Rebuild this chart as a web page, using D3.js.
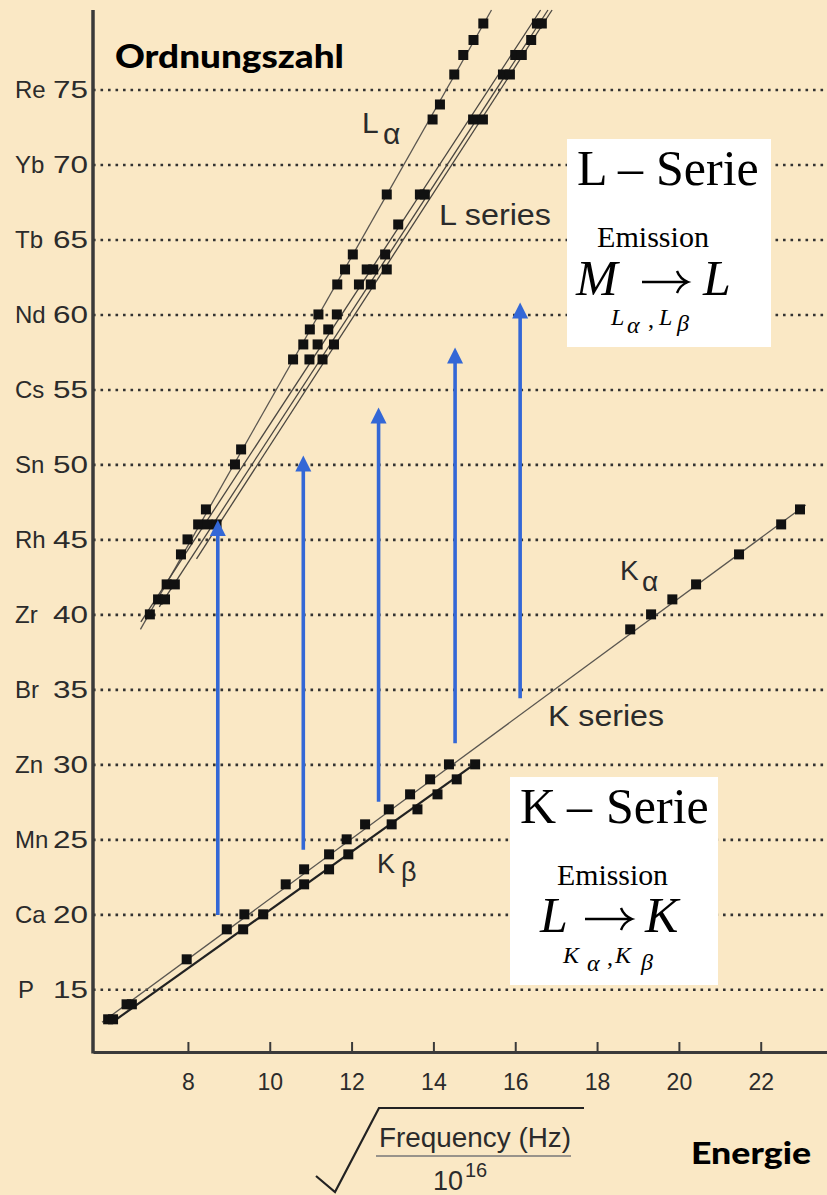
<!DOCTYPE html>
<html>
<head>
<meta charset="utf-8">
<script src="https://cdn.jsdelivr.net/npm/d3@7"></script>
<style>
  html, body { margin: 0; padding: 0; background: #fae8c5; }
  svg { display: block; }
</style>
</head>
<body>
<svg id="chart" width="827" height="1195"></svg>
<script>
// Moseley plot: atomic number Z against sqrt(frequency / 1e16)
// Each point is [sqrt(f/1e16), Z]

const zTicks = [15, 20, 25, 30, 35, 40, 45, 50, 55, 60, 65, 70, 75];
const zSymbols = ["P", "Ca", "Mn", "Zn", "Br", "Zr", "Rh", "Sn", "Cs", "Nd", "Tb", "Yb", "Re"];
const freqTicks = [8, 10, 12, 14, 16, 18, 20, 22];

const kAlphaPoints = [
  [6.05, 13], [6.50, 14], [7.97, 17], [8.95, 19], [9.38, 20], [10.39, 22],
  [10.84, 23], [11.45, 24], [11.88, 25], [12.33, 26], [12.91, 27], [13.43, 28],
  [13.92, 29], [14.38, 30], [18.81, 39], [19.32, 40], [19.84, 41], [20.42, 42],
  [21.47, 44], [22.50, 46], [22.96, 47]
];
const kBetaPoints = [
  [6.17, 13], [6.63, 14], [9.35, 19], [9.84, 20], [10.84, 22], [11.45, 23],
  [11.92, 24], [12.98, 26], [13.61, 27], [14.10, 28], [14.57, 29], [15.02, 30]
];
const lAlphaPoints = [
  [7.07, 40], [7.27, 41], [7.48, 42], [7.83, 44], [7.99, 45], [8.25, 46],
  [8.44, 47], [9.15, 50], [9.30, 51], [10.57, 57], [10.82, 58], [10.98, 59],
  [11.19, 60], [11.65, 62], [11.84, 63], [12.03, 64], [12.86, 68], [13.98, 73],
  [14.16, 74], [14.51, 76], [14.73, 77.3], [14.98, 78.3], [15.22, 79.4]
];
const lSeriesPoints = [
  [7.44, 41], [7.68, 42], [8.48, 46], [8.70, 46], [10.97, 57], [11.29, 57],
  [11.17, 58], [11.57, 58], [11.43, 59], [11.64, 60], [12.18, 62], [12.47, 62],
  [12.37, 63], [12.53, 63], [12.86, 63], [12.82, 64], [13.14, 66], [13.67, 68],
  [13.79, 68], [14.97, 73], [15.21, 73], [15.70, 76], [15.87, 76], [16.00, 77.3],
  [16.16, 77.3], [16.39, 78.3], [16.53, 79.4], [16.65, 79.4]
];

// straight-line fits, given by their two end points
const kAlphaFit = [[5.90, 12.8], [23.10, 47.3]];
const kBetaFit = [[6.15, 12.8], [15.10, 30.2]];
const lAlphaFit = [[6.84, 39.0], [15.42, 80.3]];
const lSeriesFits = [
  [[6.85, 39.5], [16.62, 80.3]],
  [[7.30, 40.5], [16.80, 80.3]],
  [[8.21, 43.7], [16.90, 80.3]]
];

// transition arrows (K level up to L level)
const arrowFreq = [8.73, 10.82, 12.66, 14.53, 16.12];
const arrowFromZ = [19.95, 24.3, 27.5, 31.4, 34.4];
const arrowToZ = [46.3, 50.6, 53.8, 57.8, 60.8];

const W = 827, H = 1195;
const svg = d3.select("#chart");

svg.append("rect").attr("width", W).attr("height", H).attr("fill", "#fae8c5");

const x = d3.scaleLinear().domain([5.68, 23.62]).range([93, 827]);
const y = d3.scaleLinear().domain([10.82, 80.3]).range([1052, 10]);

const ink = "#2b2b2b";
const sans = "'Liberation Sans', Arial, sans-serif";
const serif = "'Liberation Serif', 'Times New Roman', serif";

// dotted guide lines at the labelled elements
const grid = svg.append("g")
  .attr("transform", `translate(93,0)`)
  .call(d3.axisLeft(y).tickValues(zTicks).tickSize(-(W - 93)).tickFormat(""));
grid.select(".domain").remove();
grid.selectAll(".tick line")
  .attr("stroke", "#333")
  .attr("stroke-width", 2.6)
  .attr("stroke-dasharray", "2.6,4.9");

// element / Z labels on the left
const yl = svg.append("g");
zTicks.forEach((z, i) => {
  yl.append("text")
    .attr("x", zSymbols[i] === "P" ? 18 : 15).attr("y", y(z) + 8.5)
    .attr("font-family", sans).attr("font-size", 24)
    .attr("fill", ink)
    .text(zSymbols[i]);
  yl.append("text")
    .attr("x", 88).attr("y", y(z) + 8.5)
    .attr("text-anchor", "end")
    .attr("font-family", sans).attr("font-size", 24)
    .attr("textLength", 35).attr("lengthAdjust", "spacingAndGlyphs")
    .attr("fill", ink)
    .text(z);
});

// x axis with inward ticks
const xAxis = svg.append("g")
  .attr("transform", `translate(0,1052)`)
  .call(d3.axisBottom(x).tickValues(freqTicks).tickSize(-10).tickSizeOuter(0).tickPadding(22));
xAxis.select(".domain").attr("stroke", "#3a3a3a").attr("stroke-width", 3);
xAxis.selectAll(".tick line").attr("stroke", "#3a3a3a").attr("stroke-width", 2);
xAxis.selectAll(".tick text")
  .attr("font-family", sans).attr("font-size", 23).attr("fill", ink);

// y axis line
svg.append("line")
  .attr("x1", 93).attr("x2", 93)
  .attr("y1", y(80.3)).attr("y2", 1053.5)
  .attr("stroke", "#3a3a3a").attr("stroke-width", 3.5);

// white info boxes
svg.append("rect").attr("x", 567).attr("y", 139).attr("width", 204).attr("height", 208).attr("fill", "#fff");
svg.append("rect").attr("x", 510).attr("y", 777).attr("width", 208).attr("height", 208).attr("fill", "#fff");

// fit lines
const line = d3.line().x(d => x(d[0])).y(d => y(d[1]));
function fit(pts, w, c) {
  svg.append("path").attr("d", line(pts))
    .attr("fill", "none").attr("stroke", c).attr("stroke-width", w);
}
fit(kAlphaFit, 1.3, "#5a5650");
fit(kBetaFit, 2.2, "#222");
fit(lAlphaFit, 1.3, "#5a5650");
lSeriesFits.forEach(f => fit(f, 1.3, "#4a4640"));

// data squares
const S = 10;
function squares(pts) {
  svg.append("g").selectAll("rect").data(pts).join("rect")
    .attr("x", d => x(d[0]) - S / 2)
    .attr("y", d => y(d[1]) - S / 2)
    .attr("width", S).attr("height", S)
    .attr("fill", "#111");
}
squares(kAlphaPoints);
squares(kBetaPoints);
squares(lAlphaPoints);
squares(lSeriesPoints);

// blue arrows
const blue = "#3367d6";
arrowFreq.forEach((f, i) => {
  const ax = x(f), y0 = y(arrowFromZ[i]), y1 = y(arrowToZ[i]);
  svg.append("line")
    .attr("x1", ax).attr("x2", ax)
    .attr("y1", y0).attr("y2", y1 + 12)
    .attr("stroke", blue).attr("stroke-width", 3.6);
  svg.append("path")
    .attr("d", `M${ax},${y1} L${ax - 8},${y1 + 16} L${ax + 8},${y1 + 16} Z`)
    .attr("fill", blue);
});

// text helper
function label(txt, px, py, size, opts = {}) {
  const t = svg.append("text")
    .attr("x", px).attr("y", py)
    .attr("font-family", opts.family || sans)
    .attr("font-size", size)
    .attr("fill", opts.fill || ink)
    .text(txt);
  if (opts.italic) t.attr("font-style", "italic");
  if (opts.weight) t.attr("font-weight", opts.weight);
  if (opts.len) t.attr("textLength", opts.len).attr("lengthAdjust", "spacingAndGlyphs");
  if (opts.anchor) t.attr("text-anchor", opts.anchor);
  return t;
}

// series labels
label("L", 362, 133, 30);
label("α", 383, 144, 30);
label("L series", 439, 225, 30, { len: 112 });
label("K", 620, 580, 28);
label("α", 642, 591, 28);
label("K series", 548, 726, 30, { len: 116 });
label("K", 377, 873, 27);
label("β", 401, 881, 27);

// axis titles
label("Ordnungszahl", 115, 68, 32, { family: "Lato, sans-serif", weight: 900, fill: "#000", len: 229 });
label("Energie", 691, 1164, 30, { family: "Lato, sans-serif", weight: 900, fill: "#000", len: 120 });

// sqrt( Frequency (Hz) / 10^16 )
svg.append("path")
  .attr("d", "M316,1176 L335,1192 L379,1108 L584,1108")
  .attr("fill", "none").attr("stroke", "#222").attr("stroke-width", 2.2);
label("Frequency (Hz)", 379, 1147, 27, { len: 192 });
svg.append("line").attr("x1", 376).attr("x2", 571).attr("y1", 1156).attr("y2", 1156)
  .attr("stroke", "#777").attr("stroke-width", 1.5);
label("10", 433, 1190, 27);
label("16", 465, 1177, 20);

// TeX-style right arrow
function texArrow(x0, x1, ya) {
  svg.append("line").attr("x1", x0).attr("x2", x1 - 1).attr("y1", ya).attr("y2", ya)
    .attr("stroke", "#000").attr("stroke-width", 2.4);
  svg.append("path")
    .attr("d", `M${x1 - 11},${ya - 11} Q${x1 - 8},${ya - 3} ${x1},${ya} Q${x1 - 8},${ya + 3} ${x1 - 11},${ya + 11}`)
    .attr("fill", "none").attr("stroke", "#000").attr("stroke-width", 2.4);
}

// L-Serie box
const blk = { family: serif, fill: "#000" };
const blkI = { family: serif, fill: "#000", italic: true };
label("L", 577, 185, 50, blk);
label("–", 618, 185, 50, blk);
label("Serie", 656, 185, 50, blk);
label("Emission", 597, 247, 30, { ...blk, len: 112 });
label("M", 576, 295, 50, blkI);
texArrow(642, 688, 282);
label("L", 703, 295, 50, blkI);
label("L", 611, 325, 24, blkI);
label("α", 627, 333, 24, blkI);
label(",", 648, 327, 24, blk);
label("L", 659, 325, 24, blkI);
label("β", 677, 331, 24, blkI);

// K-Serie box
label("K", 520, 823, 50, blk);
label("–", 567, 823, 50, blk);
label("Serie", 606, 823, 50, blk);
label("Emission", 557, 885, 30, { ...blk, len: 111 });
label("L", 540, 932, 50, blkI);
texArrow(585, 632, 919);
label("K", 645, 932, 50, blkI);
label("K", 563, 963, 24, blkI);
label("α", 587, 971, 24, blkI);
label(",", 607, 965, 24, blk);
label("K", 615, 963, 24, blkI);
label("β", 641, 970, 24, blkI);
</script>
</body>
</html>
